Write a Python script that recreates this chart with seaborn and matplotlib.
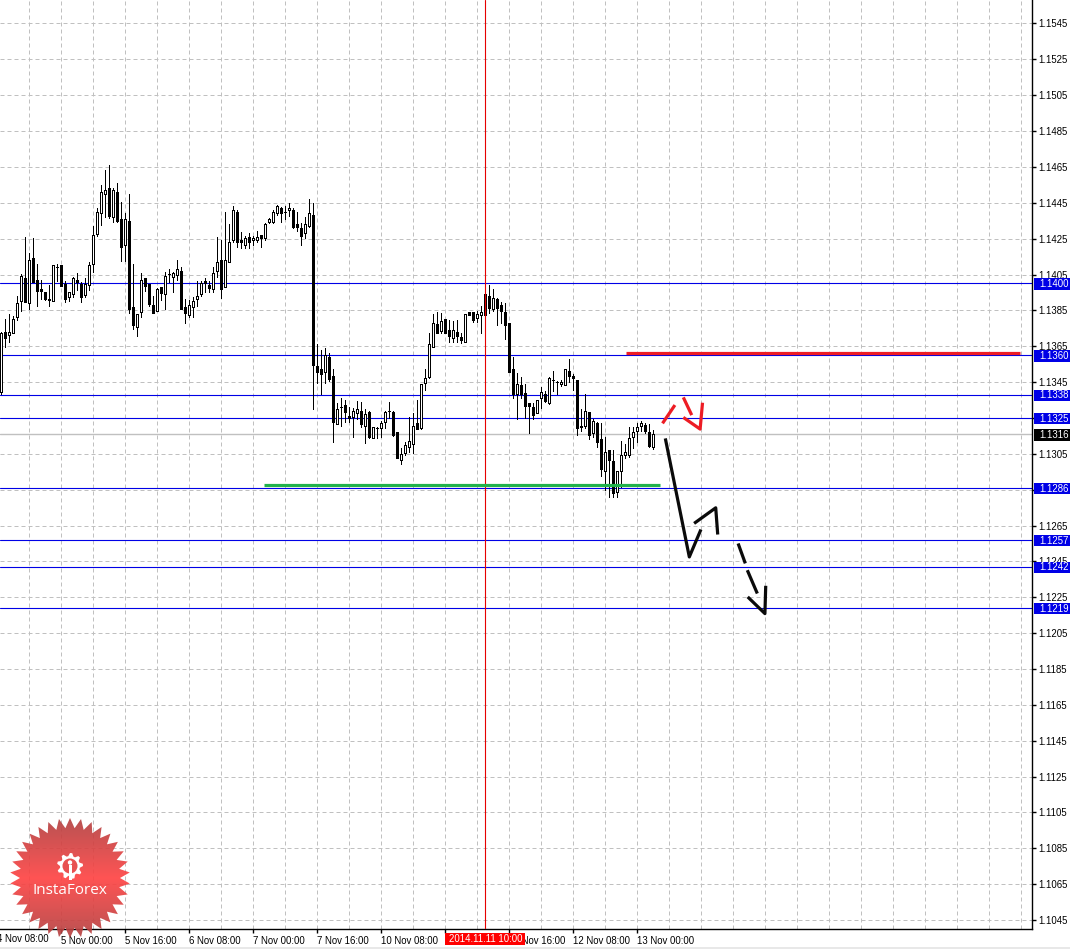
import numpy as np
import pandas as pd
import seaborn as sns
import matplotlib
matplotlib.use("Agg")
import matplotlib.pyplot as plt
from matplotlib.patches import Rectangle, Polygon, Circle
from matplotlib.colors import LinearSegmentedColormap
from matplotlib.transforms import blended_transform_factory

# EURUSD H1 candles
opens = [1.13387,1.13720,1.13702,1.13713,1.13802,1.13891,1.14022,1.13880,1.14131,1.14010,1.13960,1.13943,1.13903,1.13891,1.14085,1.14092,
1.13988,1.13917,1.13930,1.14010,1.13988,1.13929,1.13981,1.14098,1.14269,1.14382,1.14488,1.14522,1.14360,1.14500,1.14349,1.14208,
1.14338,1.13858,1.13750,1.13830,1.14020,1.13988,1.13869,1.13839,1.13971,1.13930,1.14042,1.14029,1.14040,1.14059,1.13858,1.13815,
1.13858,1.13903,1.13930,1.14005,1.13983,1.13958,1.14059,1.14122,1.13969,1.14109,1.14232,1.14390,1.14234,1.14208,1.14248,1.14232,
1.14232,1.14260,1.14243,1.14332,1.14336,1.14382,1.14412,1.14390,1.14399,1.14399,1.14321,1.14299,1.14271,1.14310,1.14371,1.13530,
1.13514,1.13499,1.13579,1.13475,1.13209,1.13300,1.13313,1.13250,1.13248,1.13270,1.13279,1.13198,1.13274,1.13132,1.13183,1.13186,
1.13220,1.13278,1.13274,1.13160,1.13008,1.13045,1.13080,1.13097,1.13211,1.13186,1.13437,1.13471,1.13638,1.13765,1.13726,1.13791,
1.13731,1.13689,1.13718,1.13690,1.13666,1.13832,1.13832,1.13800,1.13815,1.13932,1.13921,1.13850,1.13904,1.13871,1.13832,1.13769,
1.13512,1.13372,1.13423,1.13378,1.13322,1.13300,1.13270,1.13350,1.13376,1.13326,1.13451,1.13439,1.13428,1.13426,1.13501,1.13475,
1.13451,1.13199,1.13196,1.13272,1.13159,1.13214,1.13121,1.12948,1.13060,1.12999,1.12829,1.12946,1.13034,1.13036,1.13136,1.13170,
1.13199,1.13201,1.13160,1.13080]
highs = [1.13722,1.13793,1.13821,1.13810,1.13921,1.14044,1.14248,1.14159,1.14243,1.14100,1.14010,1.13943,1.13983,1.14092,1.14100,1.14092,
1.14005,1.13942,1.14029,1.14049,1.14001,1.14022,1.14109,1.14312,1.14410,1.14541,1.14624,1.14650,1.14522,1.14550,1.14448,1.14382,
1.14490,1.14100,1.13819,1.14048,1.14020,1.13988,1.13921,1.13964,1.13971,1.14057,1.14072,1.14057,1.14122,1.14081,1.13903,1.13899,
1.13914,1.14005,1.14005,1.14022,1.14005,1.14081,1.14248,1.14234,1.14392,1.14323,1.14423,1.14401,1.14276,1.14254,1.14271,1.14254,
1.14286,1.14260,1.14327,1.14355,1.14401,1.14429,1.14420,1.14421,1.14440,1.14410,1.14388,1.14327,1.14364,1.14461,1.14438,1.13653,
1.13620,1.13631,1.13601,1.13514,1.13322,1.13350,1.13341,1.13300,1.13294,1.13337,1.13332,1.13289,1.13278,1.13188,1.13192,1.13225,
1.13281,1.13330,1.13279,1.13160,1.13071,1.13108,1.13244,1.13270,1.13341,1.13428,1.13514,1.13713,1.13821,1.13830,1.13824,1.13791,
1.13787,1.13783,1.13787,1.13713,1.13819,1.13832,1.13832,1.13837,1.13865,1.13932,1.13983,1.13958,1.13910,1.13890,1.13882,1.13769,
1.13579,1.13493,1.13471,1.13430,1.13322,1.13322,1.13344,1.13411,1.13393,1.13471,1.13501,1.13447,1.13452,1.13512,1.13570,1.13484,
1.13451,1.13289,1.13372,1.13272,1.13233,1.13220,1.13211,1.13136,1.13060,1.13062,1.12943,1.13110,1.13095,1.13188,1.13192,1.13211,
1.13224,1.13214,1.13207,1.13173]
lows = [1.13374,1.13638,1.13666,1.13713,1.13787,1.13839,1.13890,1.13849,1.14001,1.13867,1.13906,1.13899,1.13867,1.13891,1.14007,1.13979,
1.13890,1.13895,1.13917,1.13955,1.13890,1.13914,1.13955,1.14055,1.14256,1.14317,1.14364,1.14355,1.14336,1.14334,1.14116,1.14116,
1.13828,1.13739,1.13700,1.13806,1.13951,1.13865,1.13828,1.13839,1.13899,1.13849,1.13999,1.13943,1.14010,1.13850,1.13769,1.13802,
1.13802,1.13867,1.13921,1.13943,1.13943,1.13943,1.14029,1.13908,1.13969,1.14109,1.14224,1.14196,1.14191,1.14191,1.14191,1.14206,
1.14221,1.14196,1.14234,1.14327,1.14327,1.14373,1.14336,1.14349,1.14368,1.14299,1.14284,1.14208,1.14243,1.14308,1.13289,1.13434,
1.13374,1.13434,1.13449,1.13108,1.13209,1.13196,1.13220,1.13218,1.13136,1.13233,1.13192,1.13099,1.13131,1.13132,1.13131,1.13136,
1.13183,1.13239,1.13142,1.13015,1.12984,1.13034,1.13053,1.13043,1.13181,1.13181,1.13397,1.13462,1.13638,1.13717,1.13713,1.13713,
1.13666,1.13666,1.13666,1.13661,1.13666,1.13815,1.13776,1.13778,1.13717,1.13796,1.13828,1.13836,1.13759,1.13769,1.13679,1.13499,
1.13350,1.13233,1.13350,1.13239,1.13159,1.13233,1.13270,1.13294,1.13332,1.13318,1.13393,1.13374,1.13419,1.13423,1.13443,1.13397,
1.13146,1.13170,1.13186,1.13121,1.13136,1.13080,1.12917,1.12839,1.12798,1.12801,1.12798,1.12857,1.13015,1.13025,1.13071,1.13108,
1.13170,1.13155,1.13080,1.13069]
closes = [1.13713,1.13689,1.13720,1.13793,1.13880,1.14033,1.13890,1.14122,1.14001,1.13951,1.13951,1.13906,1.13900,1.14092,1.14085,1.13979,
1.13906,1.13942,1.14020,1.13999,1.13917,1.13988,1.14092,1.14260,1.14388,1.14500,1.14511,1.14368,1.14511,1.14338,1.14196,1.14349,
1.13850,1.13761,1.13819,1.14009,1.13979,1.13876,1.13828,1.13958,1.13940,1.14031,1.14042,1.14048,1.14072,1.13850,1.13828,1.13869,
1.13891,1.13919,1.13992,1.13992,1.13966,1.14048,1.14111,1.13958,1.14122,1.14221,1.14399,1.14221,1.14221,1.14243,1.14221,1.14243,
1.14248,1.14247,1.14321,1.14349,1.14390,1.14421,1.14382,1.14390,1.14410,1.14308,1.14308,1.14258,1.14321,1.14382,1.13538,1.13499,
1.13488,1.13592,1.13458,1.13220,1.13291,1.13300,1.13276,1.13239,1.13279,1.13289,1.13207,1.13263,1.13136,1.13188,1.13183,1.13211,
1.13272,1.13278,1.13146,1.13019,1.13038,1.13088,1.13110,1.13199,1.13181,1.13428,1.13462,1.13651,1.13769,1.13717,1.13782,1.13717,
1.13698,1.13730,1.13698,1.13677,1.13819,1.13817,1.13787,1.13819,1.13832,1.13817,1.13854,1.13908,1.13856,1.13839,1.13761,1.13499,
1.13372,1.13428,1.13372,1.13309,1.13309,1.13257,1.13339,1.13387,1.13337,1.13462,1.13451,1.13439,1.13439,1.13512,1.13477,1.13462,
1.13186,1.13188,1.13278,1.13146,1.13222,1.13108,1.12958,1.13049,1.13006,1.12820,1.12943,1.13032,1.13049,1.13132,1.13160,1.13188,
1.13211,1.13166,1.13086,1.13149]
# my readings above came out a little low against the price scale
read_offset = 0.00009

price_levels = [1.1400, 1.1360, 1.1338, 1.1325, 1.1286, 1.1257, 1.1242, 1.1219]
last_price = 1.1316
y_ticks = [1.1045 + 0.002 * k for k in range(26)]
first_label = "4 Nov 08:00"
first_label_bar = -1
time_labels = ["5 Nov 00:00", "5 Nov 16:00", "6 Nov 08:00", "7 Nov 00:00", "7 Nov 16:00",
               "10 Nov 08:00", "11 Nov 00:00", "11 Nov 16:00", "12 Nov 08:00", "13 Nov 00:00"]
label_bars = [15, 31, 47, 63, 79, 95, 111, 127, 143, 159]
cursor_bar = 121
cursor_label = "2014.11.11 10:00"

# hand drawn marks on the chart: stroke id, bar position, price
stroke_ids = [0,0, 1,1, 2,2,2, 3,3,3, 4,4,4, 5,5, 6,6, 7,7,7, 8,8]
stroke_x = [165.3,168.4, 170.5,172.6, 170.5,174.7,175.3, 166.0,172.0,174.9,
            173.2,178.6,179.1, 184.2,186.0, 186.5,189.0, 186.6,190.9,191.1, 65.7,164.7]
stroke_y = [1.13211,1.13313, 1.13356,1.13257, 1.13244,1.13179,1.13326, 1.13127,1.12466,1.12619,
            1.12653,1.12740,1.12591, 1.12541,1.12430, 1.12392,1.12262, 1.12243,1.12150,1.12305, 1.12866,1.12866]
red_line_x = [156.2, 254.7]
red_line_y = [1.13604, 1.13604]

BLUE = "#0000e6"
GRID = "#c0c0c0"
FS = 6.9

sns.set_theme(style="white")
plt.rcParams["font.family"] = ["Liberation Sans", "DejaVu Sans"]

W, H = 1070, 949
fig = plt.figure(figsize=(W / 100, H / 100), dpi=100, facecolor="white")
ax = fig.add_axes([0, (H - 929) / H, 1032 / W, 929 / H])

df = pd.DataFrame({"bar": np.arange(len(opens)), "open": opens, "high": highs, "low": lows, "close": closes})
df[["open", "high", "low", "close"]] += read_offset

# grid and axes
ax.set_axisbelow(True)
ax.set_xticks(label_bars)
ax.set_xticklabels(time_labels, ha="left", fontsize=FS, color="black")
ax.set_xticks(np.arange(7, 258, 8), minor=True)
ax.yaxis.tick_right()
ax.set_yticks(y_ticks)
ax.set_yticklabels([f"{v:.4f}" for v in y_ticks], fontsize=FS, color="black")
ax.tick_params(axis="x", which="major", length=3, width=1, pad=2, color="black", bottom=True)
ax.tick_params(axis="x", which="minor", length=0)
ax.tick_params(axis="y", length=3, width=1, pad=1.5, color="black", right=True)
ax.grid(True, which="major", color=GRID, ls=(0, (4, 3)), lw=0.72)
ax.grid(True, which="minor", axis="x", color=GRID, ls=(0, (4, 3)), lw=0.72)
ax.set_xlim(-0.33, 257.67)
ax.set_ylim(1.10400, 1.15581)
for s in ["top", "left"]:
    ax.spines[s].set_visible(False)
for s in ["right", "bottom"]:
    ax.spines[s].set_visible(True)
    ax.spines[s].set_color("black")
    ax.spines[s].set_linewidth(1.0)

# price levels
ax.axhline(last_price, color="#c0c0c0", lw=1, zorder=1)
for lv in price_levels:
    ax.axhline(lv, color=BLUE, lw=0.8, zorder=1.5)
ax.axvline(cursor_bar, color="#e60000", lw=0.8, zorder=4)

# wicks
wicks = df.melt(id_vars="bar", value_vars=["high", "low"], value_name="price")
sns.lineplot(data=wicks, x="bar", y="price", units="bar", estimator=None, sort=False, color="black",
             lw=0.72, ax=ax, legend=False, zorder=2, antialiased=False)

# candle bodies
bull = df[df["close"] > df["open"]]
bear = df[df["close"] <= df["open"]]
ax.bar(bull["bar"], bull["close"] - bull["open"], bottom=bull["open"], width=0.5,
       facecolor="white", edgecolor="black", lw=0.72, zorder=3, antialiased=False)
ax.bar(bear["bar"], bear["close"] - bear["open"], bottom=bear["open"], width=0.5,
       facecolor="black", edgecolor="black", lw=0.72, zorder=3, antialiased=False)

# hand drawn marks
strokes = pd.DataFrame({"stroke": stroke_ids, "bar": stroke_x, "price": stroke_y})
strokes["price"] += read_offset
strokes["kind"] = np.where(strokes["stroke"] < 3, "red", np.where(strokes["stroke"] < 8, "black", "green"))
sns.lineplot(data=strokes, x="bar", y="price", units="stroke", hue="kind", estimator=None, sort=False,
             palette={"red": "#ed1c24", "black": "#0a0a0a", "green": "#22b14c"}, lw=2.3, ax=ax,
             legend=False, zorder=5, solid_capstyle="butt")
sns.lineplot(x=red_line_x, y=[v + read_offset for v in red_line_y], color="#ed1c24", lw=2.3, ax=ax, legend=False,
             zorder=5, solid_capstyle="butt")
ax.set_xlabel("")
ax.set_ylabel("")

# price tags on the scale
tr = blended_transform_factory(ax.transAxes, ax.transData)
box_h = 0.00064
tags = [(lv, BLUE) for lv in price_levels] + [(last_price, "#000000")]
for lv, col in tags:
    ax.add_patch(Rectangle((1.0015, lv - box_h * 0.56), 0.0355, box_h, transform=tr, facecolor=col,
                           edgecolor="none", clip_on=False, zorder=10))
    ax.text(1.0068, lv - box_h * 0.06, f"{lv:.4f}", transform=tr, color="white", fontsize=FS,
            va="center", ha="left", clip_on=False, zorder=11)

# cursor date tag and the label cut by the left edge
tr2 = blended_transform_factory(ax.transData, ax.transAxes)
ax.text(first_label_bar, -0.0108, first_label, transform=tr2, color="black", fontsize=FS,
        va="center", ha="left", clip_on=False, zorder=9)
ax.add_patch(Rectangle((110.9, -0.0043), 20.0, -0.0130, transform=tr2, facecolor="#ff0000",
                       edgecolor="none", clip_on=False, zorder=10))
ax.text(112.0, -0.0108, cursor_label, transform=tr2, color="white", fontsize=FS,
        va="center", ha="left", clip_on=False, zorder=11)

# thin grey strip at the very bottom of the window
fig.patches.append(Rectangle((0, 0), 1, 2 / H, transform=fig.transFigure, facecolor="#e8e8e8", edgecolor="none"))

# InstaForex badge in pixel coordinates
ov = fig.add_axes([0, 0, 1, 1], facecolor="none")
ov.set_axis_off()
cx, cy, n_teeth = 70, 878, 34
ang = np.linspace(0, 2 * np.pi, 2 * n_teeth, endpoint=False)
rad = np.where(np.arange(2 * n_teeth) % 2 == 0, 60, 50)
star = np.column_stack([cx + rad * np.sin(ang), cy - rad * np.cos(ang)])
cmap = LinearSegmentedColormap.from_list("badge", ["#b04242", "#ff4444", "#b04242"])
grad = np.linspace(0, 1, 256).reshape(-1, 1)
im = ov.imshow(grad, cmap=cmap, extent=(cx - 62, cx + 62, cy + 62, cy - 62), aspect="auto", alpha=0.92, zorder=1)
im.set_clip_path(Polygon(star, closed=True, transform=ov.transData))
ov.set_xlim(0, W)
ov.set_ylim(H, 0)
# gear logo
gx, gy, n_g = 70, 866, 9
ang_g = np.linspace(0, 2 * np.pi, 4 * n_g, endpoint=False)
rad_g = np.tile([13, 13, 10, 10], n_g)
gear = np.column_stack([gx + rad_g * np.sin(ang_g), gy - rad_g * np.cos(ang_g)])
ov.add_patch(Polygon(gear, closed=True, facecolor="white", edgecolor="none", zorder=2))
ov.add_patch(Circle((gx, gy), 7.5, facecolor="#e85050", edgecolor="none", zorder=3))
ov.add_patch(Rectangle((gx - 1.5, gy - 1), 3, 15, facecolor="white", edgecolor="none", zorder=4))
ov.add_patch(Circle((gx, gy - 3.5), 2.2, facecolor="white", edgecolor="none", zorder=4))
ov.text(cx, 891, "InstaForex", color="white", fontsize=11, family="Open Sans", ha="center", va="center", zorder=5)

fig.savefig("out.png", dpi=100, facecolor="white")
